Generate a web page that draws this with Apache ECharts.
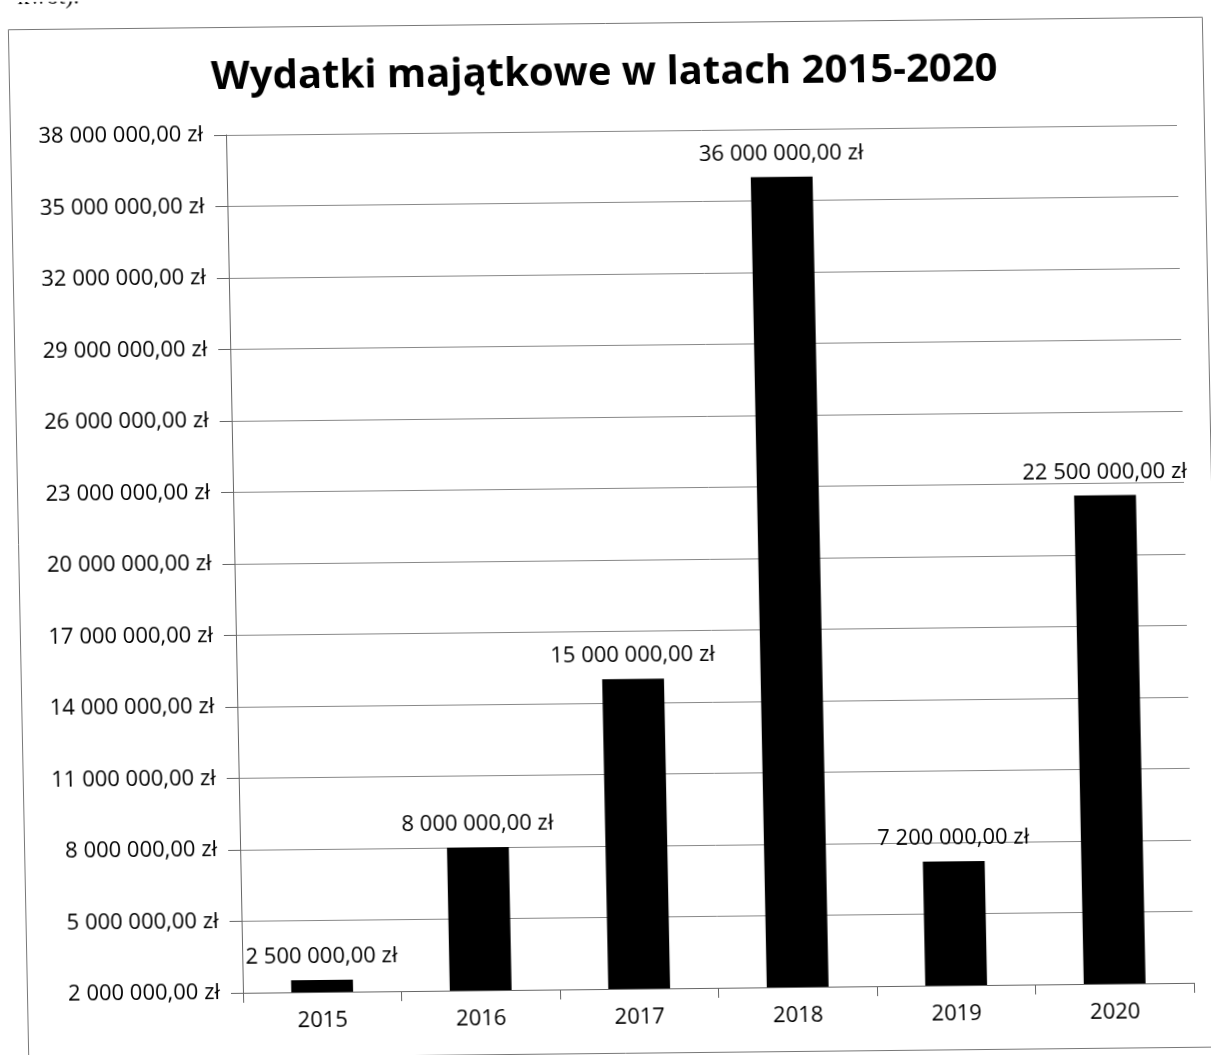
<!DOCTYPE html>
<html><head><meta charset="utf-8">
<script src="https://cdn.jsdelivr.net/npm/echarts@6/dist/echarts.min.js"></script>
<style>
html,body{margin:0;padding:0;background:#fff;overflow:hidden;width:1211px;height:1055px}
/* the reference is a slightly skewed scan: reproduce its tilt */
#c{width:1211px;height:1075px;transform-origin:0 0;transform:matrix(1,-0.0105,0.0198,1,-2.67,2.37)}
</style>
</head><body><div id="c"></div>
<script>
const categories = ['2015','2016','2017','2018','2019','2020'];
const values = [2500000, 8000000, 15000000, 36000000, 7200000, 22500000];
const yMin = 2000000, yMax = 38000000, yStep = 3000000;
const titleText = 'Wydatki majątkowe w latach 2015-2020';

function fmt(v){
  const s = Math.round(v).toString().replace(/\B(?=(\d{3})+(?!\d))/g,' ');
  return s + ',00 zł';
}
const FONT = '"Open Sans", "Noto Sans", sans-serif';
const chart = echarts.init(document.getElementById('c'));
chart.setOption({
  backgroundColor:'#fff',
  animation:false,
  title:{text:titleText,left:'center',top:53,
    textStyle:{fontFamily:FONT,fontWeight:'bold',fontSize:40,color:'#000'}},
  graphic:[
    {type:'rect',shape:{x:10.5,y:27.5,width:1194,height:1030},style:{fill:'none',stroke:'#777',lineWidth:1}},
    {type:'text',left:20,top:-16,style:{text:'kwot).',font:'24px "Liberation Serif", serif',fill:'#000'}}
  ],
  grid:{left:226,right:34,top:135,bottom:82,containLabel:false},
  xAxis:{type:'category',data:categories,
    axisLine:{lineStyle:{color:'#666',width:1}},
    axisTick:{show:true,length:10,alignWithLabel:false,lineStyle:{color:'#666'}},
    axisLabel:{fontFamily:FONT,fontSize:22,color:'#000',margin:18}},
  yAxis:{type:'value',min:yMin,max:yMax,interval:yStep,
    axisLine:{show:true,lineStyle:{color:'#666',width:1}},
    axisTick:{show:true,length:12,lineStyle:{color:'#666'}},
    splitLine:{show:true,lineStyle:{color:'#888',width:1}},
    axisLabel:{fontFamily:FONT,fontSize:22,color:'#000',margin:23,formatter:fmt}},
  series:[{type:'bar',data:values,barWidth:'39%',
    itemStyle:{color:'#000'},
    label:{show:true,position:'top',distance:12,fontFamily:FONT,fontSize:22,color:'#000',formatter:p=>fmt(p.value)}}]
});
</script></body></html>
